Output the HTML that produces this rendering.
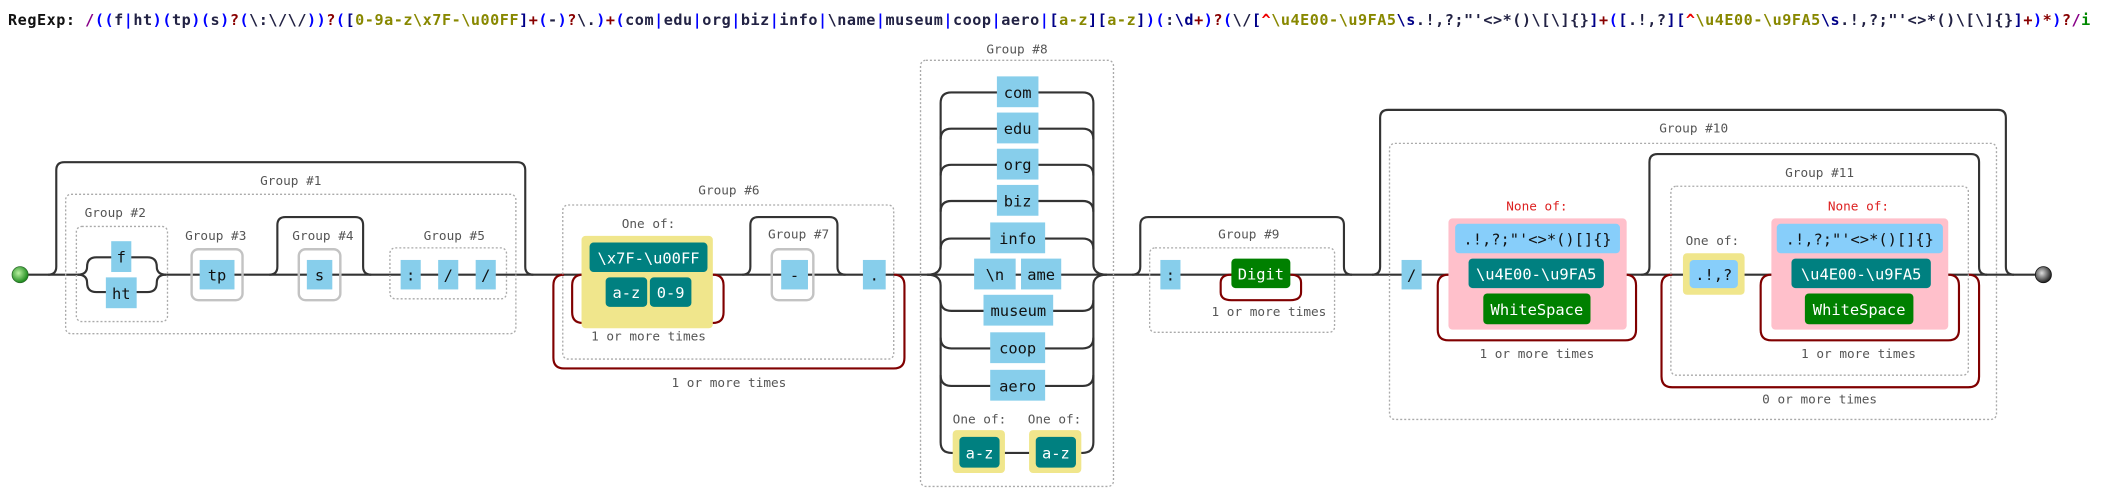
<!DOCTYPE html>
<html><head><meta charset="utf-8"><style>
html,body{margin:0;padding:0;background:#fff;width:2101px;height:499px;overflow:hidden}
svg{display:block}
text{font-family:"DejaVu Sans Mono","Liberation Mono",monospace}
.c{fill:none;stroke:#333;stroke-width:1.6}
.r{fill:none;stroke:#800000;stroke-width:1.6}
.d{fill:none;stroke:#aaa;stroke-width:1;stroke-dasharray:1.5,1.5}
.g{fill:none;stroke:#c3c3c3;stroke-width:1.8}
.lit{fill:#87ceeb}
.lb{fill:#87cefa}
.tl{fill:#008080}
.gr{fill:#008000}
.y{fill:#f0e68c}
.pk{fill:#ffc0cb}
.t{font-size:11.5px;fill:#111;text-anchor:middle}
.w{font-size:11.5px;fill:#fff;text-anchor:middle}
.l{font-size:9.5px;fill:#555;text-anchor:middle}
.n{font-size:9.5px;fill:#d22;text-anchor:middle}
</style></head><body>
<svg width="2101" height="499" viewBox="0 0 1568 372.4" xmlns="http://www.w3.org/2000/svg">
<defs>
<radialGradient id="gs" cx="0.4" cy="0.4" r="0.6"><stop offset="0" stop-color="#b8f0a0"/><stop offset="1" stop-color="#1c8a1c"/></radialGradient>
<radialGradient id="ge" cx="0.4" cy="0.4" r="0.6"><stop offset="0" stop-color="#ddd"/><stop offset="1" stop-color="#222"/></radialGradient>
</defs>
<text x="6" y="18.5" font-size="11.3" font-weight="bold" textLength="1554" lengthAdjust="spacing"><tspan fill="#111">RegExp: </tspan><tspan fill="#808">/</tspan><tspan fill="#00f">((</tspan><tspan fill="#224">f</tspan><tspan fill="#00f">|</tspan><tspan fill="#224">ht</tspan><tspan fill="#00f">)(</tspan><tspan fill="#224">tp</tspan><tspan fill="#00f">)(</tspan><tspan fill="#224">s</tspan><tspan fill="#00f">)</tspan><tspan fill="#800">?</tspan><tspan fill="#00f">(</tspan><tspan fill="#224">\:\/\/</tspan><tspan fill="#00f">))</tspan><tspan fill="#800">?</tspan><tspan fill="#00f">(</tspan><tspan fill="#008">[</tspan><tspan fill="#880">0-9a-z\x7F-\u00FF</tspan><tspan fill="#008">]</tspan><tspan fill="#800">+</tspan><tspan fill="#00f">(</tspan><tspan fill="#224">-</tspan><tspan fill="#00f">)</tspan><tspan fill="#800">?</tspan><tspan fill="#224">\.</tspan><tspan fill="#00f">)</tspan><tspan fill="#800">+</tspan><tspan fill="#00f">(</tspan><tspan fill="#224">com</tspan><tspan fill="#00f">|</tspan><tspan fill="#224">edu</tspan><tspan fill="#00f">|</tspan><tspan fill="#224">org</tspan><tspan fill="#00f">|</tspan><tspan fill="#224">biz</tspan><tspan fill="#00f">|</tspan><tspan fill="#224">info</tspan><tspan fill="#00f">|</tspan><tspan fill="#224">\name</tspan><tspan fill="#00f">|</tspan><tspan fill="#224">museum</tspan><tspan fill="#00f">|</tspan><tspan fill="#224">coop</tspan><tspan fill="#00f">|</tspan><tspan fill="#224">aero</tspan><tspan fill="#00f">|</tspan><tspan fill="#008">[</tspan><tspan fill="#880">a-z</tspan><tspan fill="#008">][</tspan><tspan fill="#880">a-z</tspan><tspan fill="#008">]</tspan><tspan fill="#00f">)(</tspan><tspan fill="#224">:</tspan><tspan fill="#008">\d</tspan><tspan fill="#800">+</tspan><tspan fill="#00f">)</tspan><tspan fill="#800">?</tspan><tspan fill="#00f">(</tspan><tspan fill="#224">\/</tspan><tspan fill="#008">[</tspan><tspan fill="#e00">^</tspan><tspan fill="#880">\u4E00-\u9FA5</tspan><tspan fill="#008">\s</tspan><tspan fill="#224">.!,?;&quot;'&lt;&gt;*()\[\]{}</tspan><tspan fill="#008">]</tspan><tspan fill="#800">+</tspan><tspan fill="#00f">(</tspan><tspan fill="#008">[</tspan><tspan fill="#224">.!,?</tspan><tspan fill="#008">][</tspan><tspan fill="#e00">^</tspan><tspan fill="#880">\u4E00-\u9FA5</tspan><tspan fill="#008">\s</tspan><tspan fill="#224">.!,?;&quot;'&lt;&gt;*()\[\]{}</tspan><tspan fill="#008">]</tspan><tspan fill="#800">+</tspan><tspan fill="#00f">)</tspan><tspan fill="#800">*</tspan><tspan fill="#00f">)</tspan><tspan fill="#800">?</tspan><tspan fill="#808">/</tspan><tspan fill="#080">i</tspan></text>

<path class="c" d="M21 205 H58 M124 205 H1519"/>
<path class="c" d="M58 205 Q65 205 65 199 Q65 192 72 192 H110 Q117 192 117 199 Q117 205 124 205"/>
<path class="c" d="M58 205 Q65 205 65 211 Q65 218 72 218 H110 Q117 218 117 211 Q117 205 124 205"/>
<path class="c" d="M36 205 Q42 205 42 199 V127 Q42 121 48 121 H386 Q392 121 392 127 V199 Q392 205 398 205"/>
<path class="c" d="M201 205 Q207 205 207 199 V168 Q207 162 213 162 H265 Q271 162 271 168 V199 Q271 205 277 205"/>
<path class="c" d="M554 205 Q560 205 560 199 V168 Q560 162 566 162 H619 Q625 162 625 168 V199 Q625 205 631 205"/>
<path class="c" d="M845 205 Q851 205 851 199 V168 Q851 162 857 162 H997 Q1003 162 1003 168 V199 Q1003 205 1009 205"/>
<path class="c" d="M1024 205 Q1030 205 1030 199 V88 Q1030 82 1036 82 H1491 Q1497 82 1497 88 V199 Q1497 205 1503 205"/>
<path class="c" d="M1225 205 Q1231 205 1231 199 V121 Q1231 115 1237 115 H1471 Q1477 115 1477 121 V199 Q1477 205 1483 205"/>
<path class="r" d="M421 205 Q413 205 413 213 V267 Q413 275 421 275 H667 Q675 275 675 267 V213 Q675 205 667 205"/>
<path class="r" d="M435 205 Q427 205 427 213 V233 Q427 241 435 241 H532 Q540 241 540 233 V213 Q540 205 532 205"/>
<path class="r" d="M919 205 Q911 205 911 211 V218 Q911 224 919 224 H963 Q971 224 971 218 V211 Q971 205 963 205"/>
<path class="r" d="M1081 205 Q1073 205 1073 213 V246 Q1073 254 1081 254 H1213 Q1221 254 1221 246 V213 Q1221 205 1213 205"/>
<path class="r" d="M1322 205 Q1314 205 1314 213 V246 Q1314 254 1322 254 H1454 Q1462 254 1462 246 V213 Q1462 205 1454 205"/>
<path class="r" d="M1248 205 Q1240 205 1240 213 V281 Q1240 289 1248 289 H1469 Q1477 289 1477 281 V213 Q1477 205 1469 205"/>
<g class="c">
<path d="M692 205 Q702 205 702 197 V77 Q702 69 710 69 H808 Q816 69 816 77 V197 Q816 205 826 205"/>
<path d="M702 104 Q702 96 710 96 H808 Q816 96 816 104"/>
<path d="M702 131 Q702 123 710 123 H808 Q816 123 816 131"/>
<path d="M702 158 Q702 150 710 150 H808 Q816 150 816 158"/>
<path d="M702 186 Q702 178 710 178 H808 Q816 178 816 186"/>
<path d="M692 205 Q702 205 702 213 V330 Q702 338 710 338 H808 Q816 338 816 330 V213 Q816 205 826 205"/>
<path d="M702 224 Q702 232 710 232 H808 Q816 232 816 224"/>
<path d="M702 252 Q702 260 710 260 H808 Q816 260 816 252"/>
<path d="M702 280 Q702 288 710 288 H808 Q816 288 816 280"/>
</g>
<rect class="d" x="49" y="145" width="336" height="104" rx="4"/>
<rect class="d" x="57" y="169" width="68" height="71" rx="4"/>
<rect class="d" x="291" y="185" width="87" height="38" rx="4"/>
<rect class="d" x="420" y="153" width="247" height="115" rx="4"/>
<rect class="d" x="687" y="45" width="144" height="318" rx="4"/>
<rect class="d" x="858" y="185" width="138" height="63" rx="4"/>
<rect class="d" x="1037" y="107" width="453" height="206" rx="4"/>
<rect class="d" x="1247" y="139" width="222" height="141" rx="4"/>
<rect class="g" x="143" y="186" width="38" height="38" rx="5" fill="#fff"/>
<rect class="g" x="223" y="186" width="31" height="38" rx="5" fill="#fff"/>
<rect class="g" x="576" y="186" width="31" height="38" rx="5" fill="#fff"/>
<text class="l" x="217" y="138">Group #1</text>
<text class="l" x="86" y="162">Group #2</text>
<text class="l" x="161" y="179">Group #3</text>
<text class="l" x="241" y="179">Group #4</text>
<text class="l" x="339" y="179">Group #5</text>
<text class="l" x="544" y="145">Group #6</text>
<text class="l" x="596" y="178">Group #7</text>
<text class="l" x="759" y="40">Group #8</text>
<text class="l" x="932" y="178">Group #9</text>
<text class="l" x="1264" y="99">Group #10</text>
<text class="l" x="1358" y="132">Group #11</text>
<text class="l" x="484" y="170">One of:</text>
<text class="l" x="484" y="254">1 or more times</text>
<text class="l" x="544" y="289">1 or more times</text>
<text class="l" x="731" y="316">One of:</text>
<text class="l" x="787" y="316">One of:</text>
<text class="l" x="947" y="236">1 or more times</text>
<text class="n" x="1147" y="157">None of:</text>
<text class="l" x="1147" y="267">1 or more times</text>
<text class="l" x="1278" y="183">One of:</text>
<text class="n" x="1387" y="157">None of:</text>
<text class="l" x="1387" y="267">1 or more times</text>
<text class="l" x="1358" y="301">0 or more times</text>
<circle cx="15" cy="205" r="6" fill="url(#gs)" stroke="#2a6a2a" stroke-width="0.6"/>
<circle cx="1525" cy="205" r="6" fill="url(#ge)" stroke="#111" stroke-width="0.6"/>
<rect class="lit" x="83" y="180" width="15" height="23"/><text class="t" x="90.5" y="196">f</text>
<rect class="lit" x="79" y="207" width="23" height="23"/><text class="t" x="90.5" y="223">ht</text>
<rect class="lit" x="149" y="194" width="26" height="22"/><text class="t" x="162" y="209.5">tp</text>
<rect class="lit" x="229" y="194" width="19" height="22"/><text class="t" x="238.5" y="209.5">s</text>
<rect class="lit" x="299" y="194" width="15" height="22"/><text class="t" x="306.5" y="209.5">:</text>
<rect class="lit" x="327" y="194" width="15" height="22"/><text class="t" x="334.5" y="209.5">/</text>
<rect class="lit" x="355" y="194" width="15" height="22"/><text class="t" x="362.5" y="209.5">/</text>
<rect class="y" x="434" y="176" width="98" height="69" rx="3"/>
<rect class="tl" x="440" y="181" width="88" height="22" rx="3"/><text class="w" x="484" y="196.5">\x7F-\u00FF</text>
<rect class="tl" x="452" y="207" width="31" height="22" rx="3"/><text class="w" x="467.5" y="222.5">a-z</text>
<rect class="tl" x="485" y="207" width="31" height="22" rx="3"/><text class="w" x="500.5" y="222.5">0-9</text>
<rect class="lit" x="583" y="194" width="20" height="22"/><text class="t" x="593" y="209.5">-</text>
<rect class="lit" x="644" y="194" width="17" height="22"/><text class="t" x="652.5" y="209.5">.</text>
<rect class="lit" x="744" y="57" width="31" height="23"/><text class="t" x="759.5" y="73">com</text>
<rect class="lit" x="744" y="84" width="31" height="23"/><text class="t" x="759.5" y="100">edu</text>
<rect class="lit" x="744" y="111" width="31" height="23"/><text class="t" x="759.5" y="127">org</text>
<rect class="lit" x="744" y="138" width="31" height="23"/><text class="t" x="759.5" y="154">biz</text>
<rect class="lit" x="739" y="166" width="41" height="23"/><text class="t" x="759.5" y="182">info</text>
<rect class="lit" x="727" y="193" width="31" height="23"/><text class="t" x="742.5" y="209">\n</text>
<rect class="lit" x="762" y="193" width="30" height="23"/><text class="t" x="777" y="209">ame</text>
<rect class="lit" x="734" y="220" width="52" height="23"/><text class="t" x="760" y="236">museum</text>
<rect class="lit" x="739" y="248" width="41" height="23"/><text class="t" x="759.5" y="264">coop</text>
<rect class="lit" x="739" y="276" width="41" height="23"/><text class="t" x="759.5" y="292">aero</text>
<rect class="y" x="711" y="321" width="39" height="32" rx="3"/>
<rect class="tl" x="716" y="326" width="30" height="23" rx="3"/><text class="w" x="731" y="342">a-z</text>
<rect class="y" x="768" y="321" width="39" height="32" rx="3"/>
<rect class="tl" x="773" y="326" width="30" height="23" rx="3"/><text class="w" x="788" y="342">a-z</text>
<rect class="lit" x="866" y="194" width="15" height="22"/><text class="t" x="873.5" y="209.5">:</text>
<rect class="gr" x="919" y="193" width="44" height="22" rx="3"/><text class="w" x="941" y="208.5">Digit</text>
<rect class="lit" x="1046" y="194" width="15" height="22"/><text class="t" x="1053.5" y="209.5">/</text>
<rect class="pk" x="1081" y="163" width="133" height="83" rx="3"/>
<rect class="lb" x="1086" y="167" width="123" height="22" rx="3"/><text class="t" x="1147.5" y="182.5" font-size="10.5">.!,?;"'&lt;&gt;*()[]{}</text>
<rect class="tl" x="1096" y="193" width="101" height="22" rx="3"/><text class="w" x="1146.5" y="208.5">\u4E00-\u9FA5</text>
<rect class="gr" x="1107" y="219" width="80" height="23" rx="3"/><text class="w" x="1147" y="235">WhiteSpace</text>
<rect class="y" x="1256" y="189" width="46" height="31" rx="3"/>
<rect class="lb" x="1261" y="194" width="36" height="21" rx="3"/><text class="t" x="1279" y="209">.!,?</text>
<rect class="pk" x="1322" y="163" width="132" height="83" rx="3"/>
<rect class="lb" x="1326" y="167" width="124" height="22" rx="3"/><text class="t" x="1388" y="182.5" font-size="10.5">.!,?;"'&lt;&gt;*()[]{}</text>
<rect class="tl" x="1337" y="193" width="104" height="22" rx="3"/><text class="w" x="1389" y="208.5">\u4E00-\u9FA5</text>
<rect class="gr" x="1347" y="219" width="81" height="23" rx="3"/><text class="w" x="1387.5" y="235">WhiteSpace</text>
</svg>
</body></html>
